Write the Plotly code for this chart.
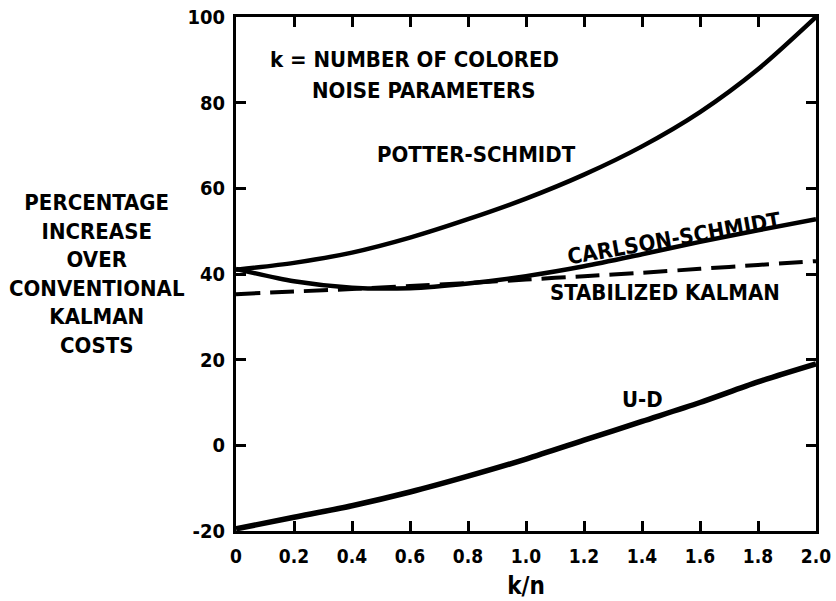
import plotly.graph_objects as go

# k/n sample points shared by all curves
kn = [0.0, 0.2, 0.4, 0.6, 0.8, 1.0, 1.2, 1.4, 1.6, 1.8, 2.0]

# Percentage increase over conventional Kalman costs
potter_schmidt = [41.0, 42.6, 45.0, 48.5, 52.8, 57.6, 63.2, 69.8, 77.8, 87.8, 100.0]
carlson_schmidt = [41.2, 38.3, 36.8, 36.7, 37.8, 39.5, 41.8, 44.6, 47.5, 50.2, 52.8]
stabilized_kalman = [35.3, 35.9, 36.5, 37.2, 37.9, 38.7, 39.5, 40.3, 41.2, 42.1, 43.0]
u_d = [-19.5, -16.8, -14.1, -10.9, -7.2, -3.2, 1.2, 5.6, 10.0, 14.8, 19.0]

x_ticks = [0.0, 0.2, 0.4, 0.6, 0.8, 1.0, 1.2, 1.4, 1.6, 1.8, 2.0]
x_ticktext = ["0", "0.2", "0.4", "0.6", "0.8", "1.0", "1.2", "1.4", "1.6", "1.8", "2.0"]
y_ticks = [-20, 0, 20, 40, 60, 80, 100]
y_ticktext = ["-20", "0", "20", "40", "60", "80", "100"]

FONT = "DejaVu Sans Condensed, Liberation Sans Narrow, DejaVu Sans, sans-serif"
INK = "#000000"

fig = go.Figure()

solid = dict(color=INK, width=4.5, shape="spline", smoothing=0.8)
fig.add_trace(go.Scatter(x=kn, y=potter_schmidt, mode="lines", line=solid,
                         name="Potter-Schmidt", showlegend=False, hoverinfo="skip"))
fig.add_trace(go.Scatter(x=kn, y=carlson_schmidt, mode="lines", line=solid,
                         name="Carlson-Schmidt", showlegend=False, hoverinfo="skip"))
fig.add_trace(go.Scatter(x=kn, y=stabilized_kalman, mode="lines",
                         line=dict(color=INK, width=4, dash="24px,10px",
                                   shape="spline", smoothing=0.8),
                         name="Stabilized Kalman", showlegend=False, hoverinfo="skip"))
fig.add_trace(go.Scatter(x=kn, y=u_d, mode="lines",
                         line=dict(color=INK, width=5.5, shape="spline", smoothing=0.8),
                         name="U-D", showlegend=False, hoverinfo="skip"))

label_font = dict(family=FONT, size=22, color=INK, weight="bold")

plot_left, plot_right = 236, 831

annotations = [
    dict(x=0.11, y=90.0, xref="x", yref="y", xanchor="left", yanchor="middle",
         text="k = NUMBER OF COLORED", showarrow=False, font=label_font),
    dict(x=0.255, y=82.8, xref="x", yref="y", xanchor="left", yanchor="middle",
         text="NOISE PARAMETERS", showarrow=False, font=label_font),
    dict(x=0.83, y=67.8, xref="x", yref="y", text="POTTER-SCHMIDT",
         showarrow=False, font=label_font),
    dict(x=1.51, y=48.4, xref="x", yref="y", text="CARLSON-SCHMIDT",
         textangle=-10, showarrow=False, font=label_font),
    dict(x=1.48, y=35.6, xref="x", yref="y", text="STABILIZED KALMAN",
         showarrow=False, font=label_font),
    dict(x=1.40, y=10.6, xref="x", yref="y", text="U-D",
         showarrow=False, font=label_font),
    # axis title block, centred at pixel x=93 left of the plot
    dict(x=(93 - plot_left) / (plot_right - plot_left), y=40, xref="paper", yref="y",
         xanchor="center", yanchor="middle",
         text="PERCENTAGE<br>INCREASE<br>OVER<br>CONVENTIONAL<br>KALMAN<br>COSTS",
         showarrow=False, align="center", font=label_font),
]

fig.update_layout(
    width=836, height=601,
    margin=dict(l=plot_left, r=836 - plot_right, t=15, b=70),
    paper_bgcolor="white", plot_bgcolor="white",
    font=dict(family=FONT, color=INK, weight="bold"),
    annotations=annotations,
    xaxis=dict(
        range=[0, 2.0], tickvals=x_ticks, ticktext=x_ticktext,
        ticks="inside", ticklen=10, tickwidth=2.5, tickcolor=INK,
        showline=True, linewidth=3, linecolor=INK, mirror="ticks",
        showgrid=False, zeroline=False,
        tickfont=dict(family=FONT, size=19, color=INK, weight="bold"),
        ticklabelstandoff=6, ticklabeloverflow="allow",
        title=dict(text="k/n", font=dict(family=FONT, size=24, color=INK, weight="bold"),
                   standoff=12),
    ),
    yaxis=dict(
        range=[-20, 100], tickvals=y_ticks, ticktext=y_ticktext,
        ticks="inside", ticklen=10, tickwidth=2.5, tickcolor=INK,
        showline=True, linewidth=3, linecolor=INK, mirror="ticks",
        showgrid=False, zeroline=False,
        tickfont=dict(family=FONT, size=20, color=INK, weight="bold"),
        ticklabelstandoff=4, ticklabeloverflow="allow",
    ),
)

fig.write_html("out.html")
